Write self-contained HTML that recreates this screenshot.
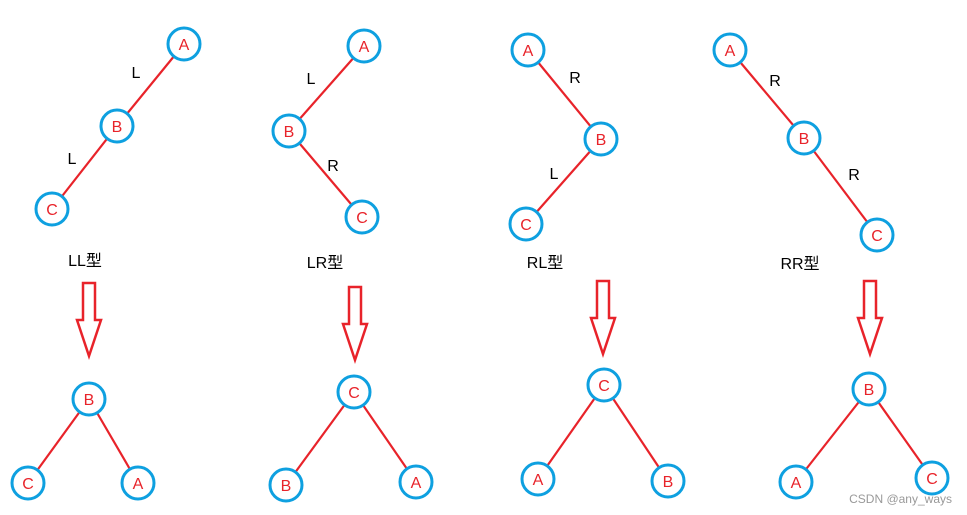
<!DOCTYPE html>
<html><head><meta charset="utf-8"><style>body{margin:0;background:#fff}svg{display:block}</style></head><body>
<svg width="967" height="515" xmlns="http://www.w3.org/2000/svg" font-family="Liberation Sans, Noto Sans CJK SC, sans-serif">
<g stroke="#e8232a" stroke-width="2.2">
<line x1="184" y1="44" x2="117" y2="126"/><line x1="117" y1="126" x2="52" y2="209"/>
<line x1="89" y1="399" x2="28" y2="483"/><line x1="89" y1="399" x2="138" y2="483"/>
<line x1="364" y1="46" x2="289" y2="131"/><line x1="289" y1="131" x2="362" y2="217"/>
<line x1="354" y1="392" x2="286" y2="485"/><line x1="354" y1="392" x2="416" y2="482"/>
<line x1="528" y1="50" x2="601" y2="139"/><line x1="601" y1="139" x2="526" y2="224"/>
<line x1="604" y1="385" x2="538" y2="479"/><line x1="604" y1="385" x2="668" y2="481"/>
<line x1="730" y1="50" x2="804" y2="138"/><line x1="804" y1="138" x2="877" y2="235"/>
<line x1="869" y1="389" x2="796" y2="482"/><line x1="869" y1="389" x2="932" y2="478"/>
</g>
<g fill="none" stroke="#e8232a" stroke-width="2.5">
<polygon points="83,283 95,283 95,320 101,320 89,356 77,320 83,320"/>
<polygon points="349,287 361,287 361,324 367,324 355,360 343,324 349,324"/>
<polygon points="597,281 609,281 609,318 615,318 603,354 591,318 597,318"/>
<polygon points="864,281 876,281 876,318 882,318 870,354 858,318 864,318"/>
</g>
<g fill="#fff" stroke="#0ea0e0" stroke-width="3">
<circle cx="184" cy="44" r="16"/><circle cx="117" cy="126" r="16"/><circle cx="52" cy="209" r="16"/>
<circle cx="89" cy="399" r="16"/><circle cx="28" cy="483" r="16"/><circle cx="138" cy="483" r="16"/>
<circle cx="364" cy="46" r="16"/><circle cx="289" cy="131" r="16"/><circle cx="362" cy="217" r="16"/>
<circle cx="354" cy="392" r="16"/><circle cx="286" cy="485" r="16"/><circle cx="416" cy="482" r="16"/>
<circle cx="528" cy="50" r="16"/><circle cx="601" cy="139" r="16"/><circle cx="526" cy="224" r="16"/>
<circle cx="604" cy="385" r="16"/><circle cx="538" cy="479" r="16"/><circle cx="668" cy="481" r="16"/>
<circle cx="730" cy="50" r="16"/><circle cx="804" cy="138" r="16"/><circle cx="877" cy="235" r="16"/>
<circle cx="869" cy="389" r="16"/><circle cx="796" cy="482" r="16"/><circle cx="932" cy="478" r="16"/>
</g>
<g fill="#e8232a" font-size="16" text-anchor="middle">
<text x="184" y="50">A</text><text x="117" y="132">B</text><text x="52" y="215">C</text>
<text x="89" y="405">B</text><text x="28" y="489">C</text><text x="138" y="489">A</text>
<text x="364" y="52">A</text><text x="289" y="137">B</text><text x="362" y="223">C</text>
<text x="354" y="398">C</text><text x="286" y="491">B</text><text x="416" y="488">A</text>
<text x="528" y="56">A</text><text x="601" y="145">B</text><text x="526" y="230">C</text>
<text x="604" y="391">C</text><text x="538" y="485">A</text><text x="668" y="487">B</text>
<text x="730" y="56">A</text><text x="804" y="144">B</text><text x="877" y="241">C</text>
<text x="869" y="395">B</text><text x="796" y="488">A</text><text x="932" y="484">C</text>
</g>
<g fill="#000" font-size="16" text-anchor="middle">
<text x="136" y="78">L</text><text x="72" y="164">L</text>
<text x="311" y="84">L</text><text x="333" y="171">R</text>
<text x="575" y="83">R</text><text x="554" y="179">L</text>
<text x="775" y="86">R</text><text x="854" y="180">R</text>
<text x="85" y="266">LL型</text><text x="325" y="268">LR型</text>
<text x="545" y="268">RL型</text><text x="800" y="269">RR型</text>
</g>
<text x="952" y="503" fill="#999" font-size="12" text-anchor="end">CSDN @any_ways</text>
</svg>
</body></html>
